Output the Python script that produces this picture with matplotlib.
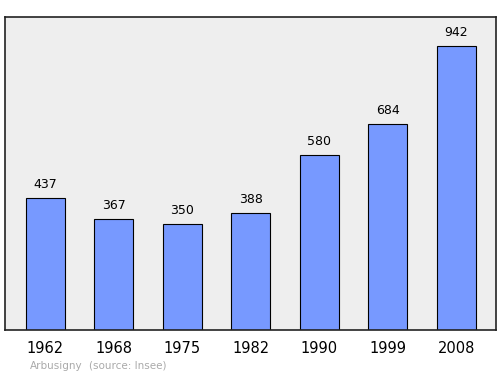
import matplotlib.pyplot as plt

years = ['1962', '1968', '1975', '1982', '1990', '1999', '2008']
population = [437, 367, 350, 388, 580, 684, 942]

fig = plt.figure(figsize=(5, 3.74), dpi=100)
ax = fig.add_axes([0.01, 0.1176, 0.982, 0.8369])
ax.set_facecolor('#eeeeee')

x = range(len(years))
ax.bar(x, population, width=0.57, color='#7799ff', edgecolor='black', linewidth=0.8, zorder=2)

for i, v in zip(x, population):
    ax.text(i, v + 24, str(v), ha='center', va='bottom', fontsize=9, color='black')

ax.set_xlim(-0.59, 6.58)
ax.set_ylim(0, 1038)
ax.set_yticks([])
ax.set_xticks(list(x))
ax.set_xticklabels(years, fontsize=10.5)
ax.tick_params(axis='x', length=0, pad=8)
for s in ax.spines.values():
    s.set_linewidth(1.2)
    s.set_color('#222222')

fig.text(0.06, 0.014, 'Arbusigny', fontsize=7.5, color='#aaaaaa')
fig.text(0.178, 0.014, '(source: Insee)', fontsize=7.5, color='#aaaaaa')

fig.savefig('out.png', dpi=100)
